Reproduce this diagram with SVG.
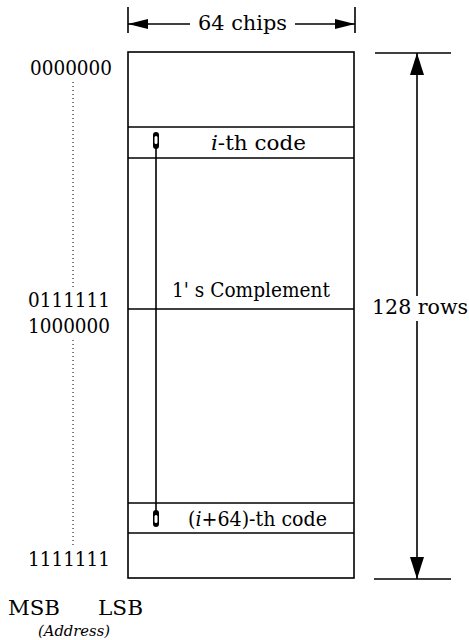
<svg xmlns="http://www.w3.org/2000/svg" width="469" height="640" viewBox="0 0 469 640">
<style>
text{font-family:"DejaVu Serif","Liberation Serif",serif;font-size:20px;fill:#000}
.ln{stroke:#000;stroke-width:1.6;fill:none}
.dot{stroke:#000;stroke-width:1;stroke-dasharray:1,3}
.it{font-style:italic}
.sm{font-size:14px;font-style:italic}
</style>
<defs>
<marker id="ah" viewBox="0 0 20 10" refX="20" refY="5" markerWidth="20" markerHeight="10" markerUnits="userSpaceOnUse" orient="auto">
<path d="M0,0 L20,5 L0,10 Z" fill="#000"/>
</marker>
<marker id="ahv" viewBox="0 0 22 14" refX="22" refY="7" markerWidth="22" markerHeight="14" markerUnits="userSpaceOnUse" orient="auto">
<path d="M0,0 L22,7 L0,14 Z" fill="#000"/>
</marker>
</defs>
<g id="memory">
<rect x="128" y="52" width="226" height="526" class="ln"/>
<line x1="128" y1="127" x2="354" y2="127" class="ln"/>
<line x1="128" y1="158" x2="354" y2="158" class="ln"/>
<line x1="128" y1="309" x2="354" y2="309" class="ln"/>
<line x1="128" y1="503" x2="354" y2="503" class="ln"/>
<line x1="128" y1="533" x2="354" y2="533" class="ln"/>
<text x="211" y="150" textLength="95" lengthAdjust="spacingAndGlyphs"><tspan class="it">i</tspan>-th code</text>
<text x="172" y="297" textLength="158" lengthAdjust="spacingAndGlyphs">1' s Complement</text>
<text x="188" y="526" textLength="139" lengthAdjust="spacingAndGlyphs">(<tspan class="it">i</tspan>+64)-th code</text>
</g>
<g id="width-dim">
<line x1="128" y1="7" x2="128" y2="33" class="ln"/>
<line x1="355" y1="7" x2="355" y2="33" class="ln"/>
<text x="198" y="30" textLength="89" lengthAdjust="spacingAndGlyphs">64 chips</text>
</g>
<g id="height-dim">
<line x1="375" y1="53" x2="451" y2="53" class="ln"/>
<line x1="374" y1="579" x2="451" y2="579" class="ln"/>
<text x="372" y="314" textLength="96" lengthAdjust="spacingAndGlyphs">128 rows</text>
</g>
<g id="address">
<text x="30" y="75" textLength="82" lengthAdjust="spacingAndGlyphs">0000000</text>
<text x="28" y="307" textLength="82" lengthAdjust="spacingAndGlyphs">0111111</text>
<text x="28" y="333" textLength="82" lengthAdjust="spacingAndGlyphs">1000000</text>
<text x="28" y="566" textLength="82" lengthAdjust="spacingAndGlyphs">1111111</text>
<line x1="73" y1="82" x2="73" y2="287" class="dot"/>
<line x1="73" y1="340" x2="73" y2="548" class="dot"/>
<text x="8" y="615" textLength="52" lengthAdjust="spacingAndGlyphs">MSB</text>
<text x="98" y="615" textLength="45" lengthAdjust="spacingAndGlyphs">LSB</text>
<text x="38" y="636" class="sm" textLength="72" lengthAdjust="spacingAndGlyphs">(Address)</text>
</g>
<g id="connectors">
<line x1="190" y1="24" x2="128" y2="24" class="ln" marker-end="url(#ah)"/>
<line x1="295" y1="24" x2="355" y2="24" class="ln" marker-end="url(#ah)"/>
<line x1="417" y1="296" x2="417" y2="53" class="ln" marker-end="url(#ahv)"/>
<line x1="417" y1="321" x2="417" y2="579" class="ln" marker-end="url(#ahv)"/>
<line x1="156" y1="142" x2="156" y2="518" class="ln"/>
<rect x="153" y="132" width="6" height="17" rx="3" fill="#000"/>
<rect x="154.5" y="136" width="3" height="8" rx="1.5" fill="#fff"/>
<rect x="153" y="510" width="6" height="17" rx="3" fill="#000"/>
<rect x="154.5" y="515" width="3" height="8" rx="1.5" fill="#fff"/>
</g>
</svg>
